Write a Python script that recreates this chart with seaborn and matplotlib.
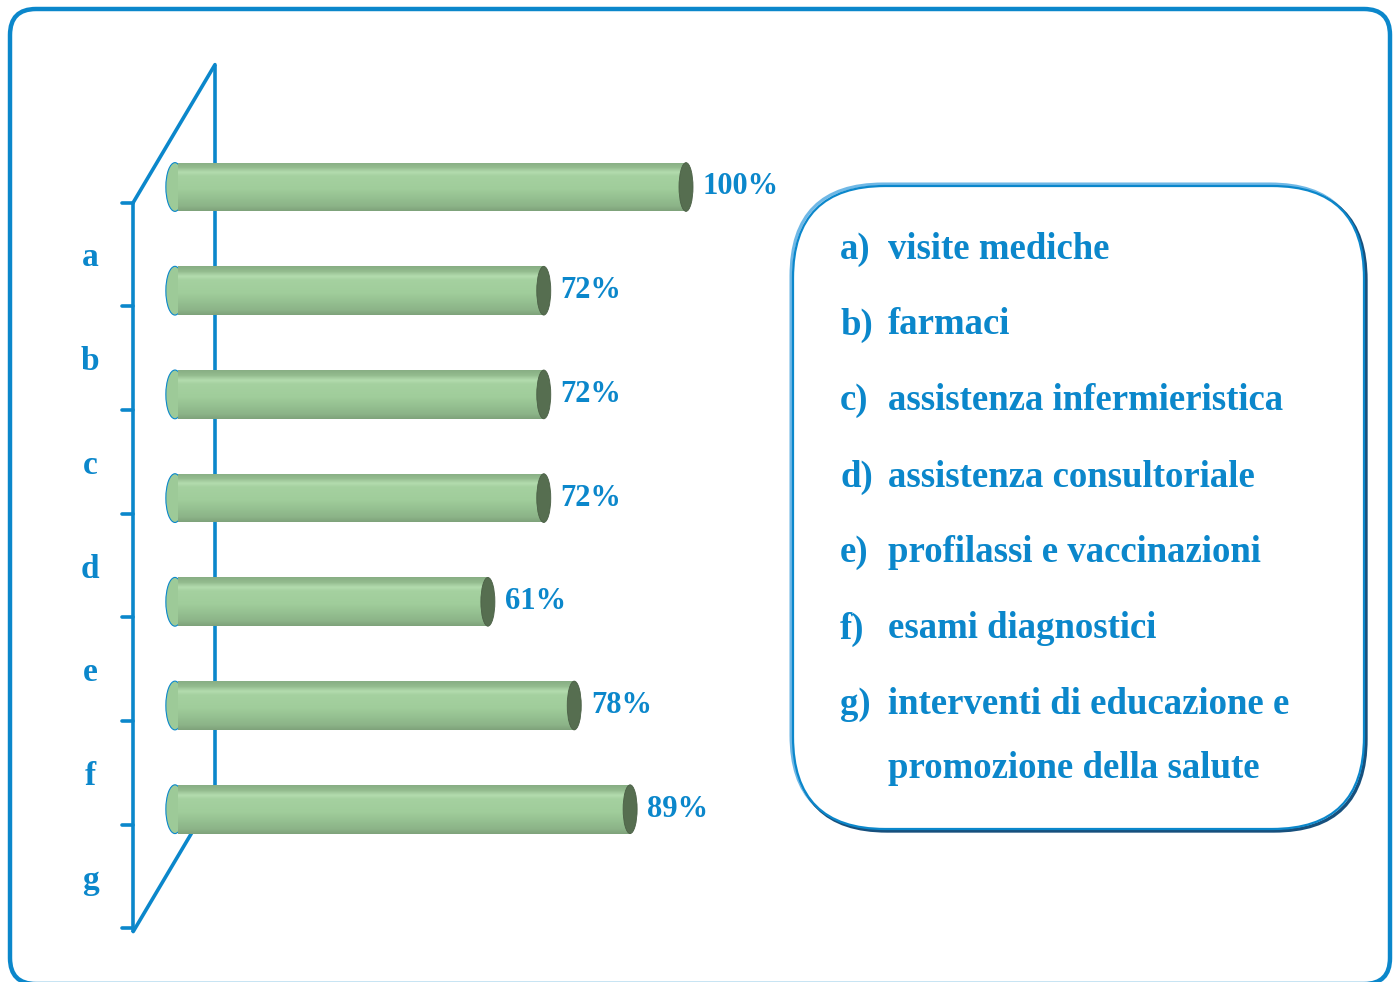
#!/usr/bin/env python3
# -*- coding: utf-8 -*-
'''
Pseudo-3D horizontal bar chart (cylinders) with a legend box.
'''

import numpy as np
import matplotlib
matplotlib.use('Agg')
import matplotlib.pyplot as plt
import matplotlib.colors as mcolors
from matplotlib.patches import Ellipse, FancyBboxPatch
import pandas as pd
import seaborn as sns

# --------------------
# DATA
# --------------------
categories = ['a', 'b', 'c', 'd', 'e', 'f', 'g']
percent = [100, 72, 72, 72, 61, 78, 89]
legend_labels = [
    'visite mediche',
    'farmaci',
    'assistenza infermieristica',
    'assistenza consultoriale',
    'profilassi e vaccinazioni',
    'esami diagnostici',
    'interventi di educazione e\npromozione della salute',
]

BLUE = '#0B87CB'
NAVY = '#17507D'
LIGHTBLUE = '#6FB8E6'
CAP = '#566E50'
FONT = ['Liberation Serif', 'DejaVu Serif']

W, H = 1396, 982

# --------------------
# FIGURE
# --------------------
sns.set_theme(style='white')
plt.rcParams['font.family'] = FONT
plt.rcParams['font.weight'] = 'bold'

fig = plt.figure(figsize=(W / 100, H / 100), dpi=100)

# overlay in pixel coordinates for frame and legend box
over = fig.add_axes([0, 0, 1, 1], zorder=0)
over.set_xlim(0, W)
over.set_ylim(H, 0)
over.axis('off')

over.add_patch(FancyBboxPatch((10, 9), 1380, 975, boxstyle='round,pad=0,rounding_size=26',
                              fc='white', ec=BLUE, lw=3.2, clip_on=False))

# legend box with bevel-like triple border
lx0, ly0, lx1, ly1 = 793, 186, 1364, 829
over.add_patch(FancyBboxPatch((lx0 - 2, ly0 - 2), lx1 - lx0, ly1 - ly0,
                              boxstyle='round,pad=0,rounding_size=92',
                              fc='none', ec=LIGHTBLUE, lw=2.2))
over.add_patch(FancyBboxPatch((lx0 + 2, ly0 + 2), lx1 - lx0, ly1 - ly0,
                              boxstyle='round,pad=0,rounding_size=92',
                              fc='none', ec=NAVY, lw=2.4))
over.add_patch(FancyBboxPatch((lx0, ly0), lx1 - lx0, ly1 - ly0,
                              boxstyle='round,pad=0,rounding_size=92',
                              fc='white', ec=BLUE, lw=1.6))

row_y = 249
for cat, lab in zip(categories, legend_labels):
    over.text(840, row_y, cat + ')', color=BLUE, fontsize=26.5, fontweight='bold',
              va='center', ha='left')
    for k, line in enumerate(lab.split('\n')):
        over.text(888, row_y + 63 * k, line, color=BLUE, fontsize=26.5,
                  fontweight='bold', va='center', ha='left')
    row_y += 76

# --------------------
# BARS
# --------------------
# pixel mapping: value v -> 178 + 5.08 v ; category i -> 187 + 103.7 i
px0, pxs = 178, 5.08
py0, pys = 187, 103.7
axl, axr, axt, axb = 100, 800, 40, 960
ax = fig.add_axes([axl / W, 1 - axb / H, (axr - axl) / W, (axb - axt) / H], zorder=2)
ax.patch.set_alpha(0)

df = pd.DataFrame({'cat': categories, 'pct': percent})
sns.barplot(data=df, y='cat', x='pct', orient='h', color='#9BC796', width=0.47,
            ax=ax, zorder=3, linewidth=0)

ax.set_xlim((axl - px0) / pxs, (axr - px0) / pxs)
ax.set_ylim((axb - py0) / pys, (axt - py0) / pys)
for s in ax.spines.values():
    s.set_visible(False)
ax.set_xticks([])
ax.set_xlabel('')
ax.set_ylabel('')

n = len(categories)
# perspective walls
back_x, back_top = 7.28, -1.18
dx, dy = -16.1, 1.33
back_bot = back_top + n + 0.03
ax.plot([back_x, back_x], [back_top, back_bot], color=BLUE, lw=2.6, zorder=1,
        solid_capstyle='butt')
ax.plot([back_x + dx, back_x], [back_top + dy, back_top], color=BLUE, lw=2.6,
        zorder=1, clip_on=False)
ax.plot([back_x + dx, back_x], [back_bot + dy, back_bot], color=BLUE, lw=2.6,
        zorder=1, clip_on=False)
ax.plot([back_x + dx, back_x + dx], [back_top + dy, back_bot + dy], color=BLUE,
        lw=2.6, zorder=1, clip_on=False, solid_capstyle='butt')
tick_y = back_top + dy + np.arange(n + 1)
for ty in tick_y:
    ax.plot([back_x + dx - 11 / pxs, back_x + dx], [ty, ty], color=BLUE, lw=2.6,
            zorder=1, clip_on=False, solid_capstyle='round')

ax.set_yticks(np.arange(n) + 0.65, labels=categories)
ax.tick_params(axis='y', length=0, pad=7, labelsize=24, labelcolor=BLUE)
for t in ax.get_yticklabels():
    t.set_ha('center')
    t.set_fontweight('bold')

# cylinder shading
shade = mcolors.LinearSegmentedColormap.from_list('cyl', [
    (0.00, '#88AE84'), (0.10, '#93BB8E'), (0.20, '#B3DCAE'), (0.28, '#A5D1A0'),
    (0.55, '#A0CD9B'), (0.75, '#94BF90'), (0.90, '#8CB488'), (1.00, '#7FA37B')])
grad = np.linspace(0, 1, 64).reshape(-1, 1)
cap_w = 14 / pxs
for p, v in zip(ax.patches, percent):
    x, y, w, h = p.get_x(), p.get_y(), p.get_width(), p.get_height()
    # rounded back end
    ax.add_patch(Ellipse((x - 0.6, y + h / 2), cap_w * 1.3, h, fc='#9DCA98', ec=BLUE,
                         lw=0.8, zorder=2.5))
    im = ax.imshow(grad, cmap=shade, aspect='auto', extent=(x, x + w, y + h, y),
                   zorder=3.5, interpolation='bilinear')
    im.set_clip_path(p)
    # dark front cap
    ax.add_patch(Ellipse((x + w, y + h / 2), cap_w, h, fc=CAP, ec='#4B6046', lw=0.6,
                         zorder=4))

ax.set_xlim((axl - px0) / pxs, (axr - px0) / pxs)
ax.set_ylim((axb - py0) / pys, (axt - py0) / pys)

ax.bar_label(ax.containers[0], labels=[f'{v}%' for v in percent], padding=12,
             color=BLUE, fontsize=22, fontweight='bold', zorder=5)

fig.savefig('out.png', dpi=100)
